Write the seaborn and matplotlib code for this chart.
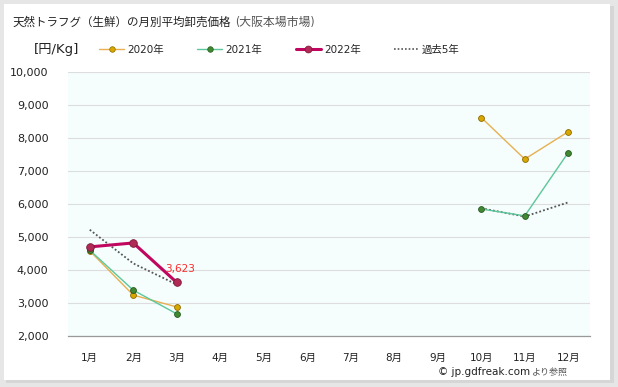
import numpy as np
import pandas as pd
import matplotlib
matplotlib.use("Agg")
import matplotlib.pyplot as plt
from matplotlib.patches import Rectangle
from matplotlib.lines import Line2D
import seaborn as sns

# data (円/Kg), NaN = no trading that month
months = ["1月", "2月", "3月", "4月", "5月", "6月", "7月", "8月", "9月", "10月", "11月", "12月"]
y2020 = [4580, 3240, 2880, np.nan, np.nan, np.nan, np.nan, np.nan, np.nan, 8620, 7360, 8190]
y2021 = [4600, 3390, 2670, np.nan, np.nan, np.nan, np.nan, np.nan, np.nan, 5850, 5640, 7560]
y2022 = [4700, 4820, 3623, np.nan, np.nan, np.nan, np.nan, np.nan, np.nan, np.nan, np.nan, np.nan]
avg5 = [5220, 4200, 3560, np.nan, np.nan, np.nan, np.nan, np.nan, np.nan, 5870, 5620, 6050]
yticks = [2000, 3000, 4000, 5000, 6000, 7000, 8000, 9000, 10000]

sns.set_style("white")
plt.rcParams["font.family"] = ["DejaVu Sans", "Noto Sans CJK JP"]

fig = plt.figure(figsize=(6.18, 3.87), dpi=100, facecolor="#e6e6e6")
# white card with a soft shadow
fig.patches.append(Rectangle((6 / 618, 4 / 387), 608 / 618, 377 / 387, transform=fig.transFigure,
                             facecolor="#d6d6d6", edgecolor="none", zorder=-3))
fig.patches.append(Rectangle((4 / 618, 7 / 387), 606 / 618, 376 / 387, transform=fig.transFigure,
                             facecolor="white", edgecolor="none", zorder=-2))

ax = fig.add_axes([68 / 618, 1 - 336 / 387, 522 / 618, 264 / 387])
ax.set_zorder(1)
ax.set_facecolor("#f5fdfd")

x = np.arange(1, 13)


def draw(vals, **kw):
    df = pd.DataFrame({"m": x, "v": vals})
    seg = df["v"].isna().cumsum()
    for _, part in df.dropna().groupby(seg[df["v"].notna()]):
        sns.lineplot(data=part, x="m", y="v", ax=ax, **kw)


draw(avg5, color="#555555", linestyle=(0, (1, 1.2)), linewidth=1.3, zorder=2)
draw(y2020, color="#e8b050", linewidth=1, marker="o", markersize=4.2,
     markerfacecolor="#d9a800", markeredgecolor="#8a6a00", markeredgewidth=0.6, zorder=3)
draw(y2021, color="#5cc79a", linewidth=1, marker="o", markersize=4.2,
     markerfacecolor="#3f8a30", markeredgecolor="#28561e", markeredgewidth=0.6, zorder=3)
draw(y2022, color="#c0065e", linewidth=2.2, marker="o", markersize=5.5,
     markerfacecolor="#b02a55", markeredgecolor="#7a1a3a", markeredgewidth=0.6, zorder=4)

# last value label
ax.annotate(f"{y2022[2]:,}", xy=(3, y2022[2]), xytext=(3.08, y2022[2] + 420),
            color="#ff2a2a", fontsize=7.5, ha="center", va="center",
            arrowprops=dict(arrowstyle="-", color="#444444", lw=0.6, shrinkA=4, shrinkB=2))

ax.set_xlim(0.5, 12.5)
ax.set_ylim(2000, 10000)
ax.set_xticks(x)
ax.set_xticklabels(months, fontsize=7.5)
ax.set_yticks(yticks)
ax.set_yticklabels([f"{v:,}" for v in yticks], fontsize=8)
ax.set_xlabel("")
ax.set_ylabel("")
ax.tick_params(axis="both", length=0, pad=12, colors="#222222")
ax.tick_params(axis="y", pad=14)
ax.grid(axis="y", color="#dddddd", linewidth=0.8)
for s in ["top", "right", "left"]:
    ax.spines[s].set_visible(False)
ax.spines["bottom"].set_color("#999999")
ax.spines["bottom"].set_linewidth(0.9)

# legend
handles = [
    Line2D([], [], color="#e8b050", lw=1, marker="o", markersize=4, markerfacecolor="#d9a800",
           markeredgecolor="#8a6a00", markeredgewidth=0.5),
    Line2D([], [], color="#5cc79a", lw=1, marker="o", markersize=4, markerfacecolor="#3f8a30",
           markeredgecolor="#28561e", markeredgewidth=0.5),
    Line2D([], [], color="#c0065e", lw=2.2, marker="o", markersize=5, markerfacecolor="#b02a55",
           markeredgecolor="#7a1a3a", markeredgewidth=0.5),
    Line2D([], [], color="#555555", lw=1.2, linestyle=(0, (1, 1.2))),
]
fig.legend(handles, ["2020年", "2021年", "2022年", "過去5年"], loc="center left",
           bbox_to_anchor=(90 / 618, 1 - 50 / 387), ncol=4, frameon=False, fontsize=7.5,
           handlelength=2.4, handletextpad=0.3, columnspacing=3.2)

fig.text(34 / 618, 1 - 50 / 387, "[円/Kg]", fontsize=9.5, va="center", color="#222222")
fig.text(12 / 618, 1 - 22 / 387, "天然トラフグ（生鮮）の月別平均卸売価格", fontsize=8.3,
         va="center", color="#222222")
fig.text(235 / 618, 1 - 22 / 387, "(大阪本場市場)", fontsize=8.6, va="center", color="#555555",
         stretch="condensed")
fig.text(438 / 618, 1 - 372 / 387, "© jp.gdfreak.com", fontsize=7.5, va="center", color="#222222")
fig.text(532 / 618, 1 - 372 / 387, "より参照", fontsize=6.5, va="center", color="#555555")

fig.savefig("out.png", dpi=100, facecolor=fig.get_facecolor())
